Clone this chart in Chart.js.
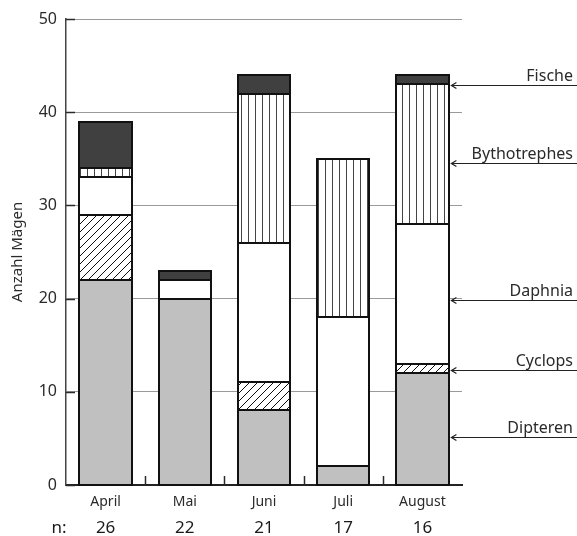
<!DOCTYPE html>
<html>
<head>
<meta charset="utf-8">
<script src="https://cdn.jsdelivr.net/npm/chart.js@4"></script>
<style>
  html, body { margin: 0; padding: 0; background: #fff; }
  #wrap { width: 577px; height: 536px; }
</style>
</head>
<body>
<div id="wrap"><canvas id="chart" width="577" height="536"></canvas></div>
<script>
// categories and sample sizes
const months = ['April', 'Mai', 'Juni', 'Juli', 'August'];
const nValues = [26, 22, 21, 17, 16];

// stacked segments (number of stomachs), bottom to top
const dipteren = [22, 20, 8, 2, 12];
const cyclops = [7, 0, 3, 0, 1];
const daphnia = [4, 2, 15, 16, 15];
const bythotrephes = [1, 0, 16, 17, 15];
const fische = [5, 1, 2, 0, 1];

// right-hand legend labels and the value they point at
const legendNames = ['Fische', 'Bythotrephes', 'Daphnia', 'Cyclops', 'Dipteren'];
const legendAt = [42.9, 34.6, 19.8, 12.3, 5.2];

const yTicks = [0, 10, 20, 30, 40, 50];

const FONT = "'Noto Sans', 'Open Sans', sans-serif";
const INK = '#2a2a2a';

function makePattern(w, h, draw) {
	const c = document.createElement('canvas');
	c.width = w; c.height = h;
	const g = c.getContext('2d');
	g.fillStyle = '#fff';
	g.fillRect(0, 0, w, h);
	draw(g, w, h);
	return document.getElementById('chart').getContext('2d').createPattern(c, 'repeat');
}

// diagonal "/" hatching
const hatch = makePattern(8, 8, (g, w, h) => {
	g.strokeStyle = '#111';
	g.lineWidth = 1;
	g.beginPath();
	g.moveTo(-1, h + 1); g.lineTo(w + 1, -1);
	g.moveTo(-1, 1); g.lineTo(1, -1);
	g.moveTo(w - 1, h + 1); g.lineTo(w + 1, h - 1);
	g.stroke();
});

// vertical lines
const vlines = makePattern(7, 7, (g) => {
	g.fillStyle = '#444';
	g.fillRect(3, 0, 1, 7);
});

const seg = (label, data, fill) => ({
	label, data, backgroundColor: fill, borderWidth: 0,
	barPercentage: 0.66, categoryPercentage: 1
});

// outline every segment with a centred 2px stroke so shared edges stay 2px
const outlines = {
	id: 'outlines',
	afterDatasetsDraw(chart) {
		const ctx = chart.ctx;
		ctx.save();
		ctx.strokeStyle = '#111';
		ctx.lineWidth = 2;
		chart.data.datasets.forEach((ds, di) => {
			chart.getDatasetMeta(di).data.forEach((bar, i) => {
				if (!ds.data[i]) return;
				const left = Math.round(bar.x - bar.width / 2);
				const right = Math.round(bar.x + bar.width / 2);
				const top = Math.round(Math.min(bar.y, bar.base));
				const bottom = Math.round(Math.max(bar.y, bar.base));
				ctx.strokeRect(left, top, right - left, bottom - top);
			});
		});
		ctx.restore();
	}
};

const extras = {
	id: 'extras',
	afterDraw(chart) {
		const { ctx, chartArea, scales: { x, y } } = chart;
		ctx.save();
		// inward y ticks
		ctx.strokeStyle = INK;
		ctx.lineWidth = 1.5;
		yTicks.forEach(v => {
			const py = Math.round(y.getPixelForValue(v)) + 0.5;
			ctx.beginPath();
			ctx.moveTo(chartArea.left, py);
			ctx.lineTo(chartArea.left + 9, py);
			ctx.stroke();
		});
		// category separator ticks on x axis
		for (let i = 1; i < months.length; i++) {
			const px = Math.round((x.getPixelForValue(i - 1) + x.getPixelForValue(i)) / 2) + 0.5;
			ctx.beginPath();
			ctx.moveTo(px, chartArea.bottom);
			ctx.lineTo(px, chartArea.bottom - 9);
			ctx.stroke();
		}
		// n row
		ctx.fillStyle = '#1a1a1a';
		ctx.font = '17px ' + FONT;
		ctx.textAlign = 'center';
		ctx.textBaseline = 'middle';
		ctx.fillText('n:', 59, 528);
		nValues.forEach((n, i) => ctx.fillText(String(n), x.getPixelForValue(i), 528));
		// legend arrows
		const lastRight = x.getPixelForValue(months.length - 1) + 26;
		ctx.strokeStyle = '#222';
		ctx.lineWidth = 1.2;
		ctx.fillStyle = INK;
		ctx.font = '16px ' + FONT;
		ctx.textAlign = 'right';
		ctx.textBaseline = 'bottom';
		legendNames.forEach((name, i) => {
			const py = Math.round(y.getPixelForValue(legendAt[i])) + 0.5;
			const x0 = lastRight + 3;
			ctx.beginPath();
			ctx.moveTo(577, py);
			ctx.lineTo(x0, py);
			ctx.moveTo(x0 + 5, py - 3);
			ctx.lineTo(x0, py);
			ctx.lineTo(x0 + 5, py + 3);
			ctx.stroke();
			ctx.fillText(name, 573, py - 1);
		});
		ctx.restore();
	}
};

new Chart(document.getElementById('chart'), {
	type: 'bar',
	data: {
		labels: months,
		datasets: [
			seg('Dipteren', dipteren, '#c0c0c0'),
			seg('Cyclops', cyclops, hatch),
			seg('Daphnia', daphnia, '#ffffff'),
			seg('Bythotrephes', bythotrephes, vlines),
			seg('Fische', fische, '#404040')
		]
	},
	options: {
		responsive: false,
		animation: false,
		layout: { padding: { top: 19, right: 115, left: 0, bottom: 0 } },
		plugins: { legend: { display: false }, tooltip: { enabled: false } },
		scales: {
			x: {
				stacked: true,
				grid: { display: false },
				border: { display: true, color: '#222', width: 2 },
				ticks: { color: INK, font: { family: FONT, size: 14 }, padding: 1 },
				afterFit: s => { s.height = 51; }
			},
			y: {
				stacked: true,
				min: 0, max: 50,
				afterBuildTicks: s => { s.ticks = yTicks.map(v => ({ value: v })); },
				grid: { color: '#9a9a9a', lineWidth: 1, drawTicks: false },
				border: { display: true, color: '#444', width: 1.5 },
				ticks: { color: INK, font: { family: FONT, size: 16 }, padding: 9 },
				title: { display: true, text: 'Anzahl Mägen', color: INK, font: { family: FONT, size: 15 }, padding: { top: 9, bottom: 0 } },
				afterFit: s => { s.width = 66; }
			}
		}
	},
	plugins: [outlines, extras]
});
</script>
</body>
</html>
